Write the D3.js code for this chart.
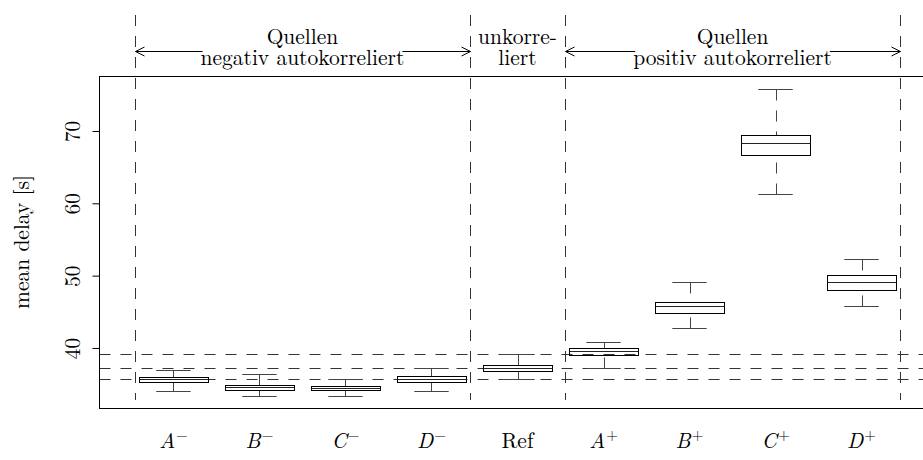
<!DOCTYPE html>
<html>
<head>
<meta charset="utf-8">
<script src="https://cdn.jsdelivr.net/npm/d3@7"></script>
<style>
  body { margin: 0; background: #fff; }
  svg { display: block; }
</style>
</head>
<body>
<svg id="chart" width="923" height="460"></svg>
<script>
// Scenario labels (letter + superscript sign)
const categories = ["A", "B", "C", "D", "Ref", "A", "B", "C", "D"];
const signs = ["\u2212", "\u2212", "\u2212", "\u2212", "", "+", "+", "+", "+"];

// Five-number summaries of mean delay [s] per scenario
const lowerWhisker  = [34.10, 33.41, 33.32, 34.01, 35.67, 37.23, 42.72, 61.25, 45.85];
const lowerQuartile = [35.26, 34.24, 34.19, 35.34, 36.78, 39.03, 44.79, 66.64, 48.06];
const medians       = [35.67, 34.57, 34.51, 35.71, 37.19, 39.54, 45.81, 68.30, 49.08];
const upperQuartile = [36.03, 34.93, 34.79, 36.17, 37.69, 40.00, 46.31, 69.41, 50.13];
const upperWhisker  = [36.96, 36.45, 35.76, 37.19, 39.13, 40.79, 49.12, 75.81, 52.30];

const yTicks = [40, 50, 60, 70];
const refIndex = 4; // the uncorrelated reference scenario

// Group separators (in box-position units) and group headings
const separators = [0.55, 4.45, 5.55, 9.45];
const groupStart = [0.55, 4.45, 5.55];
const groupEnd   = [4.45, 5.55, 9.45];
const groupLine1 = ["Quellen", "unkorre-", "Quellen"];
const groupLine2 = ["negativ autokorreliert", "liert", "positiv autokorreliert"];
const groupArrows = [true, false, true];

const svg = d3.select("#chart");
const fontFamily = '"Latin Modern Roman", "Liberation Serif", serif';
const fontSize = 21.5;
const styleText = sel => sel.style("font-family", fontFamily).style("font-size", fontSize + "px").attr("fill", "#000");

const plotLeft = 99.5, plotRight = 935.5, plotTop = 76.5, plotBottom = 408.5;
const x = d3.scaleLinear().domain([0.14, 9.86]).range([plotLeft, plotRight]);
const y = d3.scaleLinear().domain([31.7, 77.6]).range([408, 76]);

const dash = "11,10";

// Reference levels from the uncorrelated scenario (whisker ends and median)
const refLevels = [upperWhisker[refIndex], medians[refIndex], lowerWhisker[refIndex]];
svg.append("g").selectAll("line").data(refLevels).join("line")
  .attr("x1", plotLeft).attr("x2", plotRight)
  .attr("y1", d => Math.round(y(d)) + 0.5).attr("y2", d => Math.round(y(d)) + 0.5)
  .attr("stroke", "#333").attr("stroke-width", 1).attr("stroke-dasharray", dash);

// Vertical group separators (extend beyond the plot frame)
svg.append("g").selectAll("line").data(separators).join("line")
  .attr("x1", d => Math.round(x(d)) + 0.5).attr("x2", d => Math.round(x(d)) + 0.5)
  .attr("y1", 15).attr("y2", 400)
  .attr("stroke", "#333").attr("stroke-width", 1).attr("stroke-dasharray", dash);

// Plot frame
svg.append("rect")
  .attr("x", plotLeft).attr("y", plotTop)
  .attr("width", plotRight - plotLeft).attr("height", plotBottom - plotTop)
  .attr("fill", "none").attr("stroke", "#000").attr("stroke-width", 1);

// Y axis with rotated tick labels
const yAxis = svg.append("g")
  .attr("transform", `translate(${plotLeft},0)`)
  .call(d3.axisLeft(y).tickValues(yTicks).tickSize(7).tickFormat(d3.format("d")));
yAxis.select(".domain").remove();
yAxis.selectAll(".tick line").attr("stroke", "#000");
yAxis.selectAll(".tick text")
  .attr("x", null).attr("dy", null)
  .attr("transform", "translate(-20,0) rotate(-90)")
  .attr("text-anchor", "middle")
  .call(styleText);

svg.append("text")
  .attr("transform", `translate(29,${(76 + 408) / 2}) rotate(-90)`)
  .attr("text-anchor", "middle")
  .call(styleText)
  .text("mean delay [s]");

// Boxplots
const idx = d3.range(categories.length);
const boxW = 0.8, capW = 0.4;
const py = v => Math.round(y(v)) + 0.5;
const pxc = i => Math.round(x(i + 1)) + 0.5;
const boxes = svg.append("g").selectAll("g").data(idx).join("g");

boxes.append("line") // upper whisker, drawn from its end toward the box
  .attr("x1", pxc).attr("x2", pxc)
  .attr("y1", i => py(upperWhisker[i])).attr("y2", i => py(upperQuartile[i]))
  .attr("stroke", "#444").attr("stroke-dasharray", dash);
boxes.append("line") // lower whisker
  .attr("x1", pxc).attr("x2", pxc)
  .attr("y1", i => py(lowerWhisker[i])).attr("y2", i => py(lowerQuartile[i]))
  .attr("stroke", "#444").attr("stroke-dasharray", dash);
[upperWhisker, lowerWhisker].forEach(arr => {
  boxes.append("line")
    .attr("x1", i => x(i + 1 - capW / 2)).attr("x2", i => x(i + 1 + capW / 2))
    .attr("y1", i => py(arr[i])).attr("y2", i => py(arr[i]))
    .attr("stroke", "#444");
});
boxes.append("rect")
  .attr("x", i => Math.round(x(i + 1 - boxW / 2)) + 0.5)
  .attr("width", i => Math.round(x(i + 1 + boxW / 2)) - Math.round(x(i + 1 - boxW / 2)))
  .attr("y", i => py(upperQuartile[i]))
  .attr("height", i => py(lowerQuartile[i]) - py(upperQuartile[i]))
  .attr("fill", "none").attr("stroke", "#000");
boxes.append("line")
  .attr("x1", i => Math.round(x(i + 1 - boxW / 2)) + 0.5)
  .attr("x2", i => Math.round(x(i + 1 + boxW / 2)) + 0.5)
  .attr("y1", i => py(medians[i])).attr("y2", i => py(medians[i]))
  .attr("stroke", "#222").attr("stroke-width", 1.2);

// Category labels
const labels = svg.append("g").selectAll("text").data(idx).join("text")
  .attr("x", i => x(i + 1)).attr("y", 448)
  .attr("text-anchor", "middle")
  .call(styleText);
labels.each(function(i) {
  const t = d3.select(this);
  if (signs[i] === "") {
    t.text(categories[i]);
  } else {
    t.append("tspan").style("font-style", "italic").text(categories[i]);
    t.append("tspan").attr("dx", 1).attr("dy", -8).style("font-size", "15px").text(signs[i]);
  }
});

// Group headings with span arrows
const arrowY = 51.5;
groupLine1.forEach((l1, g) => {
  const cx = (x(groupStart[g]) + x(groupEnd[g])) / 2;
  svg.append("text").attr("x", cx).attr("y", 44).attr("text-anchor", "middle")
    .call(styleText).text(l1);
  const t2 = svg.append("text").attr("x", cx).attr("y", 65).attr("text-anchor", "middle")
    .call(styleText).text(groupLine2[g]);
  if (groupArrows[g]) {
    const w = t2.node().getComputedTextLength();
    const x0 = Math.round(x(groupStart[g])) + 0.5, x1 = Math.round(x(groupEnd[g])) + 0.5;
    const a = svg.append("g").attr("stroke", "#000").attr("fill", "none").attr("stroke-width", 1);
    a.append("line").attr("x1", x0).attr("x2", cx - w / 2 + 2).attr("y1", arrowY).attr("y2", arrowY);
    a.append("line").attr("x1", cx + w / 2 - 2).attr("x2", x1).attr("y1", arrowY).attr("y2", arrowY);
    a.append("path").attr("d", `M${x0 + 9},${arrowY - 4.5}L${x0},${arrowY}L${x0 + 9},${arrowY + 4.5}`);
    a.append("path").attr("d", `M${x1 - 9},${arrowY - 4.5}L${x1},${arrowY}L${x1 - 9},${arrowY + 4.5}`);
  }
});
</script>
</body>
</html>
